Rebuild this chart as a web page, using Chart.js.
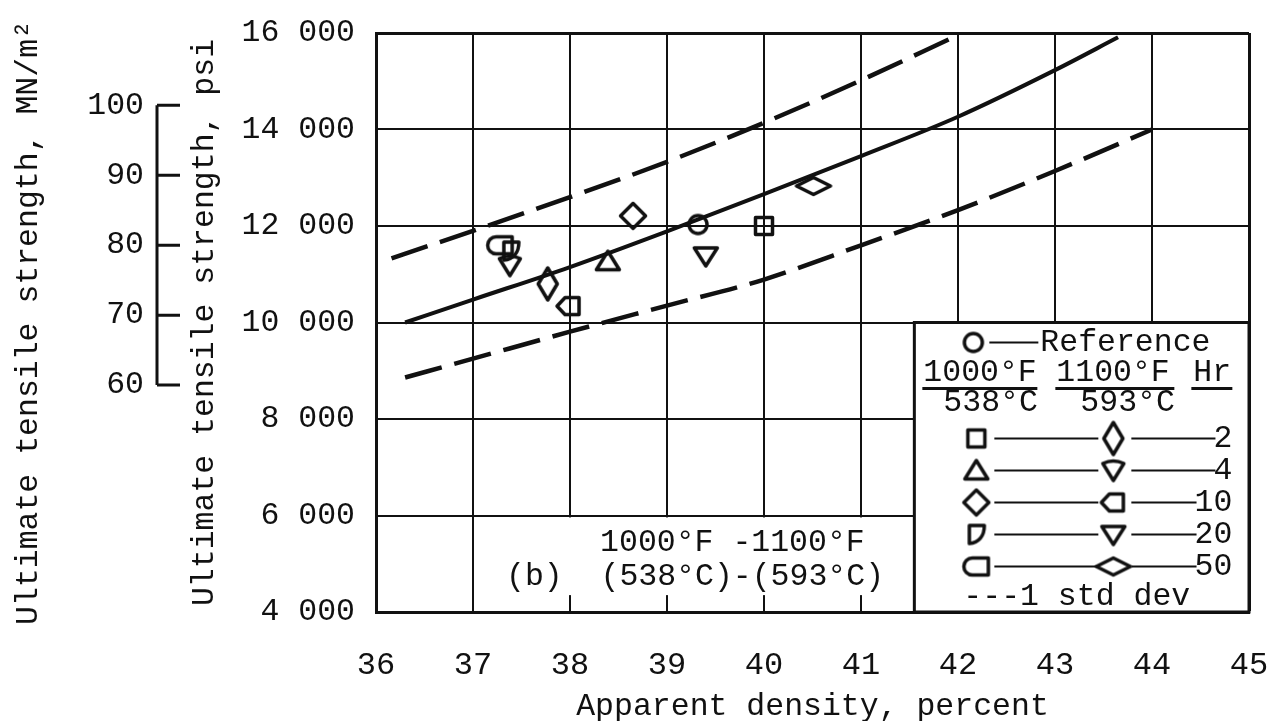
<!DOCTYPE html>
<html>
<head>
<meta charset="utf-8">
<title>Ultimate tensile strength vs apparent density</title>
<script src="https://cdn.jsdelivr.net/npm/chart.js@4.4.1/dist/chart.umd.min.js"></script>
<style>
  html, body { margin: 0; padding: 0; background: #fff; }
  #wrap { width: 1277px; height: 721px; }
</style>
</head>
<body>
<div id="wrap"><canvas id="strengthChart" width="1277" height="721"></canvas></div>
<script>
const FONT = "'Liberation Mono', 'Courier New', monospace";
const INK = "#111111";

// axes
const densityTicks = [36, 37, 38, 39, 40, 41, 42, 43, 44, 45];
const psiTicks = [4000, 6000, 8000, 10000, 12000, 14000, 16000];
const mnTicks = [60, 70, 80, 90, 100];
const PSI_PER_MN = 145.038;

// faired curve and 1 std dev band
const meanDensity = [36.3, 37, 38, 39, 40, 41, 42, 43, 43.65];
const meanPsi = [10000, 10475, 11150, 11890, 12660, 13450, 14265, 15230, 15910];
const upperDensity = [36.16, 37, 38, 39, 40, 41, 41.95];
const upperPsi = [11330, 11900, 12600, 13330, 14140, 15020, 15910];
const lowerDensity = [36.3, 37, 38, 39, 40, 41, 42, 43, 44];
const lowerPsi = [8860, 9250, 9810, 10350, 10890, 11600, 12330, 13140, 14000];

// specimens, [density %, strength psi]
const reference = [[39.32, 12030]];
const at1000_2hr = [[40.0, 12000]];
const at1000_4hr = [[38.39, 11270]];
const at1000_10hr = [[38.65, 12210]];
const at1000_20hr = [[37.39, 11480]];
const at1000_50hr = [[37.28, 11600]];
const at1100_2hr = [[37.77, 10800]];
const at1100_4hr = [[37.38, 11180]];
const at1100_10hr = [[37.99, 10340]];
const at1100_20hr = [[39.40, 11380]];
const at1100_50hr = [[40.51, 12830]];

const holdHours = ['2', '4', '10', '20', '50'];

const series = [
  { label: 'Reference', marker: 'circle', points: reference },
  { label: '1000F 2 hr', marker: 'square', points: at1000_2hr },
  { label: '1000F 4 hr', marker: 'triUp', points: at1000_4hr },
  { label: '1000F 10 hr', marker: 'diamond', points: at1000_10hr },
  { label: '1000F 20 hr', marker: 'dShape', points: at1000_20hr },
  { label: '1000F 50 hr', marker: 'roundLeft', points: at1000_50hr },
  { label: '1100F 2 hr', marker: 'tallDiamond', points: at1100_2hr },
  { label: '1100F 4 hr', marker: 'shieldDown', points: at1100_4hr },
  { label: '1100F 10 hr', marker: 'pentLeft', points: at1100_10hr },
  { label: '1100F 20 hr', marker: 'triDown', points: at1100_20hr },
  { label: '1100F 50 hr', marker: 'wideDiamond', points: at1100_50hr }
];

// hollow marker outlines, drawn once into small canvases
const shapes = {
  circle: [26, 26, c => { c.arc(0, 0, 9, 0, Math.PI * 2); }],
  square: [24, 24, c => { c.rect(-8.5, -8.5, 17, 17); }],
  triUp: [30, 28, c => { c.moveTo(0, -10); c.lineTo(11.5, 8.5); c.lineTo(-11.5, 8.5); c.closePath(); }],
  diamond: [32, 32, c => { c.moveTo(0, -12.5); c.lineTo(12.5, 0); c.lineTo(0, 12.5); c.lineTo(-12.5, 0); c.closePath(); }],
  dShape: [28, 28, c => { c.moveTo(-7, -9); c.lineTo(8, -9); c.bezierCurveTo(8, 2, 2, 8, -7, 9); c.closePath(); }],
  roundLeft: [36, 26, c => { c.moveTo(12, -8.5); c.lineTo(-4, -8.5); c.arc(-4, 0, 8.5, -Math.PI / 2, Math.PI / 2, true); c.lineTo(12, 8.5); c.closePath(); }],
  tallDiamond: [26, 40, c => { c.moveTo(0, -16); c.lineTo(9.5, 0); c.lineTo(0, 16); c.lineTo(-9.5, 0); c.closePath(); }],
  shieldDown: [30, 28, c => { c.moveTo(-10.5, -7); c.quadraticCurveTo(0, -12, 10.5, -7); c.lineTo(0, 10); c.closePath(); }],
  pentLeft: [34, 26, c => { c.moveTo(-12, 0); c.lineTo(-4, -8.5); c.lineTo(10, -8.5); c.lineTo(10, 8.5); c.lineTo(-4, 8.5); c.closePath(); }],
  triDown: [30, 28, c => { c.moveTo(-11.5, -8); c.lineTo(11.5, -8); c.lineTo(0, 10); c.closePath(); }],
  wideDiamond: [42, 26, c => { c.moveTo(-17, 0); c.lineTo(0, -8.5); c.lineTo(17, 0); c.lineTo(0, 8.5); c.closePath(); }]
};

const markers = {};
for (const key in shapes) {
  const [w, h, path] = shapes[key];
  const cv = document.createElement('canvas');
  cv.width = w; cv.height = h;
  const c = cv.getContext('2d');
  c.translate(w / 2, h / 2);
  c.strokeStyle = INK;
  c.lineWidth = 3.5;
  c.lineJoin = 'round';
  c.beginPath();
  path(c);
  c.stroke();
  markers[key] = cv;
}

const toXY = (xs, ys) => xs.map((v, i) => ({ x: v, y: ys[i] }));

const pointSets = series.map(s => ({
  label: s.label,
  data: s.points.map(p => ({ x: p[0], y: p[1] })),
  pointStyle: markers[s.marker],
  pointRadius: 10,
  showLine: false
}));

const curveSets = [
  { label: 'mean', data: toXY(meanDensity, meanPsi), borderWidth: 4, borderDash: [] },
  { label: '+1 std dev', data: toXY(upperDensity, upperPsi), borderWidth: 4.5, borderDash: [38, 13] },
  { label: '-1 std dev', data: toXY(lowerDensity, lowerPsi), borderWidth: 4.5, borderDash: [38, 13] }
].map(d => Object.assign(d, {
  showLine: true,
  pointRadius: 0,
  borderColor: INK,
  cubicInterpolationMode: 'monotone',
  fill: false
}));

const thousands = v => { const s = String(v); return s.slice(0, -3) + ' ' + s.slice(-3); };

// fixed axis sizes; label overhang is not allowed to shrink the plot
const fixSize = (w, h) => s => {
  if (w) s.width = w;
  if (h) s.height = h;
  s.paddingTop = s.paddingBottom = s.paddingLeft = s.paddingRight = 0;
};

// white panel behind the (b) caption
const caption = {
  id: 'caption',
  beforeDatasetsDraw(chart) {
    const { ctx, scales: { x, y } } = chart;
    const x0 = x.getPixelForValue(37.1), x1 = x.getPixelForValue(41.55);
    const y0 = y.getPixelForValue(5960), y1 = y.getPixelForValue(4350);
    ctx.save();
    ctx.fillStyle = '#fff';
    ctx.fillRect(x0, y0, x1 - x0, y1 - y0);
    ctx.fillStyle = INK;
    ctx.font = '31.5px ' + FONT;
    ctx.textBaseline = 'middle';
    ctx.textAlign = 'left';
    ctx.fillText('1000°F -1100°F', x.getPixelForValue(38.31), y.getPixelForValue(5430));
    ctx.fillText('(b)  (538°C)-(593°C)', x.getPixelForValue(37.34), y.getPixelForValue(4725));
    ctx.restore();
  }
};

// bracket for the MN/m2 scale
const mnBracket = {
  id: 'mnBracket',
  afterDraw(chart) {
    const s = chart.scales.mn;
    const ctx = chart.ctx;
    const xr = s.right, xl = s.right - 23;
    const top = s.getPixelForValue(mnTicks[mnTicks.length - 1]);
    const bot = s.getPixelForValue(mnTicks[0]);
    ctx.save();
    ctx.strokeStyle = INK;
    ctx.lineWidth = 3;
    ctx.beginPath();
    ctx.moveTo(xl, top); ctx.lineTo(xl, bot);
    mnTicks.forEach(v => {
      const py = s.getPixelForValue(v);
      ctx.moveTo(xl, py); ctx.lineTo(xr, py);
    });
    ctx.stroke();
    ctx.restore();
  }
};

// key box, lower right
const keyBox = {
  id: 'keyBox',
  afterDraw(chart) {
    const { ctx, chartArea, scales: { x, y } } = chart;
    const L = x.getPixelForValue(41.55), T = y.getPixelForValue(10000);
    const R = chartArea.right, B = chartArea.bottom;
    ctx.save();
    ctx.fillStyle = '#fff';
    ctx.fillRect(L, T, R - L, B - T);
    ctx.strokeStyle = INK;
    ctx.lineWidth = 3;
    ctx.strokeRect(L, T, R - L, B - T);

    ctx.fillStyle = INK;
    ctx.font = '31.5px ' + FONT;
    ctx.textBaseline = 'middle';
    ctx.textAlign = 'left';
    const rule = (a, b, yy, w) => {
      ctx.lineWidth = w || 2;
      ctx.beginPath(); ctx.moveTo(a, yy); ctx.lineTo(b, yy); ctx.stroke();
    };
    const mark = (key, cx, cy) => {
      const m = markers[key];
      ctx.drawImage(m, cx - m.width / 2, cy - m.height / 2);
    };

    mark(series[0].marker, L + 59, T + 20);
    rule(L + 75, L + 124, T + 20);
    ctx.fillText('Reference', L + 126, T + 20);

    ctx.fillText('1000°F', L + 9, T + 50);
    rule(L + 8, L + 123, T + 66, 3);
    ctx.fillText('1100°F', L + 142, T + 50);
    rule(L + 141, L + 260, T + 66, 3);
    ctx.fillText('Hr', L + 279, T + 50);
    rule(L + 277, L + 318, T + 66, 3);
    ctx.fillText('538°C', L + 29, T + 80);
    ctx.fillText('593°C', L + 166, T + 80);

    holdHours.forEach((h, i) => {
      const yy = T + 116 + i * 32;
      const textLeft = L + 318 - ctx.measureText(h).width;
      mark(series[1 + i].marker, L + 62, yy);
      rule(L + 80, L + 184, yy);
      mark(series[6 + i].marker, L + 199, yy);
      rule(L + 217, textLeft + 2, yy);
      ctx.fillText(h, textLeft, yy);
    });

    ctx.fillText('---1 std dev', L + 49, T + 274);
    ctx.restore();
  }
};

new Chart(document.getElementById('strengthChart'), {
  type: 'scatter',
  data: { datasets: [...pointSets, ...curveSets] },
  options: {
    responsive: false,
    animation: false,
    events: [],
    layout: { padding: { top: 33, right: 28, left: 0, bottom: 0 } },
    plugins: { legend: { display: false }, tooltip: { enabled: false } },
    scales: {
      x: {
        type: 'linear',
        min: 36, max: 45,
        afterBuildTicks: s => { s.ticks = densityTicks.map(v => ({ value: v })); },
        afterFit: fixSize(0, 109),
        grid: { color: INK, lineWidth: c => (c.tick && c.tick.value === 45 ? 3 : 2), drawTicks: false },
        border: { color: INK, width: 3 },
        ticks: { color: INK, font: { family: FONT, size: 32 }, padding: 34, autoSkip: false, maxRotation: 0 },
        title: {
          display: true, text: 'Apparent density, percent', color: INK,
          font: { family: FONT, size: 31.5, lineHeight: 1 }, padding: { top: 0, bottom: -1 }
        }
      },
      y: {
        type: 'linear',
        position: 'left',
        weight: 0,
        min: 4000, max: 16000,
        afterBuildTicks: s => { s.ticks = psiTicks.map(v => ({ value: v })); },
        afterFit: fixSize(196, 0),
        grid: { color: INK, lineWidth: c => (c.tick && c.tick.value === 16000 ? 3 : 2), drawTicks: false },
        border: { color: INK, width: 3 },
        ticks: { color: INK, font: { family: FONT, size: 31.5 }, padding: 21, callback: v => thousands(v) },
        title: {
          display: true, text: 'Ultimate tensile strength, psi', color: INK,
          font: { family: FONT, size: 31.5 }, padding: { top: 6, bottom: 0 }
        }
      },
      mn: {
        type: 'linear',
        position: 'left',
        weight: 1,
        min: 4000 / PSI_PER_MN, max: 16000 / PSI_PER_MN,
        afterBuildTicks: s => { s.ticks = mnTicks.map(v => ({ value: v })); },
        afterFit: fixSize(180, 0),
        grid: { display: false, drawTicks: false },
        border: { display: false },
        ticks: { color: INK, font: { family: FONT, size: 31.5 }, padding: 36 },
        title: {
          display: true, text: 'Ultimate tensile strength, MN/m²', color: INK,
          font: { family: FONT, size: 31.5 }, padding: { top: 10, bottom: 0 }
        }
      }
    }
  },
  plugins: [caption, mnBracket, keyBox]
});
</script>
</body>
</html>
